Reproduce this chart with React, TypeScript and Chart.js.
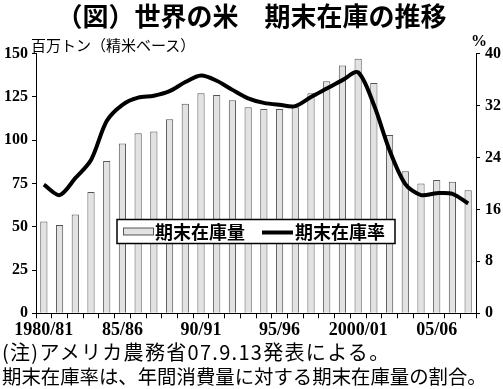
import React, { useEffect, useRef } from "react";
import { Chart, registerables } from "chart.js";

Chart.register(...registerables);

const categories = [
  "1980/81", "81/82", "82/83", "83/84", "84/85", "85/86", "86/87", "87/88", "88/89", "89/90",
  "90/91", "91/92", "92/93", "93/94", "94/95", "95/96", "96/97", "97/98", "98/99", "99/2000",
  "2000/01", "01/02", "02/03", "03/04", "04/05", "05/06", "06/07", "07/08",
];
const shownTicks = ["1980/81", "85/86", "90/91", "95/96", "2000/01", "05/06"];

const stockLabel = "期末在庫量";
const ratioLabel = "期末在庫率";

const stocks = [
  53, 51, 57, 70, 88, 98, 104, 105, 112, 121,
  127, 126, 123, 119, 118, 118, 119, 127, 134, 143,
  147, 133, 103, 82, 75, 77, 76, 71,
];
const stockRatio = [
  19.8, 18.2, 20.8, 23.6, 29.6, 32.1, 33.2, 33.5, 34.2, 35.6,
  36.6, 35.8, 34.4, 33.1, 32.4, 32.1, 31.9, 33.3, 34.6, 35.9,
  37.1, 32.1, 25.1, 19.9, 18.2, 18.5, 18.4, 16.9,
];

const leftMax = 150;
const leftStep = 25;
const rightMax = 40;
const rightStep = 8;

const titleText = "（図）世界の米　期末在庫の推移";
const unitText = "百万トン（精米ベース）";
const rightUnit = "%";
const note1 = "(注)アメリカ農務省07.9.13発表による。";
const note2 = "期末在庫率は、年間消費量に対する期末在庫量の割合。";

const CJK = '"Noto Sans CJK JP", "Noto Sans CJK SC", sans-serif';
const SERIF = '"Liberation Serif", "DejaVu Serif", serif';

export default function App() {
  const canvasRef = useRef<HTMLCanvasElement | null>(null);

  useEffect(() => {
    const canvas = canvasRef.current;
    if (!canvas) return;

    const boxLegend = {
      id: "boxLegend",
      afterDatasetsDraw(chart: any) {
        const ctx = chart.ctx as CanvasRenderingContext2D;
        const ca = chart.chartArea;
        const x = ca.left + 81;
        const y = ca.top + 166;
        const w = 278;
        const h = 24;
        ctx.save();
        ctx.fillStyle = "#ffffff";
        ctx.fillRect(x, y, w, h);
        ctx.strokeStyle = "#000000";
        ctx.lineWidth = 1.5;
        ctx.strokeRect(x, y, w, h);
        const cy = y + h / 2;
        ctx.fillStyle = "#e2e2e2";
        ctx.fillRect(x + 6, cy - 3.5, 30, 7);
        ctx.strokeStyle = "#555555";
        ctx.lineWidth = 1;
        ctx.strokeRect(x + 6.5, cy - 3.5, 30, 7);
        ctx.fillStyle = "#000000";
        ctx.font = `bold 18px ${CJK}`;
        ctx.textBaseline = "middle";
        ctx.textAlign = "left";
        ctx.fillText(stockLabel, x + 38, cy + 1);
        ctx.strokeStyle = "#000000";
        ctx.lineWidth = 4;
        ctx.beginPath();
        ctx.moveTo(x + 145, cy + 1);
        ctx.lineTo(x + 176, cy + 1);
        ctx.stroke();
        ctx.fillText(ratioLabel, x + 178, cy + 1);
        ctx.restore();
      },
    };

    const chart = new Chart(canvas, {
      type: "bar",
      data: {
        labels: categories,
        datasets: [
          {
            type: "line",
            label: ratioLabel,
            data: stockRatio,
            yAxisID: "y1",
            borderColor: "#000000",
            borderWidth: 4,
            pointRadius: 0,
            tension: 0.3,
            order: 0,
          } as any,
          {
            type: "bar",
            label: stockLabel,
            data: stocks,
            yAxisID: "y",
            backgroundColor: "#e2e2e2",
            borderColor: "#555555",
            borderWidth: 1,
            barPercentage: 0.46,
            categoryPercentage: 1,
            order: 1,
          },
        ],
      },
      options: {
        responsive: false,
        animation: false,
        events: [],
        layout: { padding: { top: 53.5, left: 0, right: 0, bottom: 0 } },
        plugins: {
          legend: { display: false },
          title: { display: false },
          tooltip: { enabled: false },
        },
        scales: {
          x: {
            offset: true,
            grid: {
              display: true,
              drawOnChartArea: false,
              drawTicks: true,
              tickLength: 5,
              color: "#000000",
              offset: true,
            },
            border: { display: true, color: "#000000", width: 1 },
            ticks: {
              autoSkip: false,
              maxRotation: 0,
              minRotation: 0,
              padding: 1,
              color: "#000000",
              font: { family: SERIF, size: 18, weight: "bold" },
              callback: (_v: any, i: number) =>
                shownTicks.includes(categories[i]) ? categories[i] : "",
            },
            afterFit: (s: any) => {
              s.height = 75.7;
            },
          },
          y: {
            position: "left",
            min: 0,
            max: leftMax,
            grid: {
              drawOnChartArea: false,
              drawTicks: true,
              tickLength: 4,
              color: "#000000",
            },
            border: { display: true, color: "#000000", width: 1 },
            ticks: {
              stepSize: leftStep,
              padding: 4,
              color: "#000000",
              font: { family: SERIF, size: 16, weight: "bold" },
            },
            afterFit: (s: any) => {
              s.width = 36;
            },
          },
          y1: {
            position: "right",
            min: 0,
            max: rightMax,
            grid: {
              drawOnChartArea: false,
              drawTicks: true,
              tickLength: 4,
              color: "#000000",
            },
            border: { display: true, color: "#000000", width: 1 },
            ticks: {
              stepSize: rightStep,
              padding: 5,
              color: "#000000",
              font: { family: SERIF, size: 16, weight: "bold" },
            },
            afterFit: (s: any) => {
              s.width = 27;
            },
          },
        },
      },
      plugins: [boxLegend],
    });

    return () => {
      chart.destroy();
    };
  }, []);

  return (
    <div
      style={{
        position: "absolute",
        left: 0,
        top: 0,
        width: 503,
        height: 389,
        background: "#ffffff",
        overflow: "hidden",
      }}
    >
      <canvas
        ref={canvasRef}
        width={503}
        height={389}
        style={{ position: "absolute", left: 0, top: 0, width: 503, height: 389 }}
      />
      <div
        style={{
          position: "absolute",
          left: 0,
          top: 2,
          width: 503,
          textAlign: "center",
          fontFamily: CJK,
          fontWeight: "bold",
          fontSize: 26,
          lineHeight: 1,
          whiteSpace: "nowrap",
          color: "#000",
        }}
      >
        {titleText}
      </div>
      <div
        style={{
          position: "absolute",
          left: 31,
          top: 37,
          fontFamily: CJK,
          fontSize: 15,
          lineHeight: 1,
          whiteSpace: "nowrap",
          color: "#000",
        }}
      >
        {unitText}
      </div>
      <div
        style={{
          position: "absolute",
          left: 471,
          top: 33,
          fontFamily: SERIF,
          fontWeight: "bold",
          fontSize: 16,
          lineHeight: 1,
          color: "#000",
        }}
      >
        {rightUnit}
      </div>
      <div
        style={{
          position: "absolute",
          left: 2,
          top: 342,
          fontFamily: CJK,
          fontSize: 20,
          letterSpacing: 1.3,
          lineHeight: 1,
          whiteSpace: "nowrap",
          color: "#000",
        }}
      >
        {note1}
      </div>
      <div
        style={{
          position: "absolute",
          left: 2,
          top: 366,
          fontFamily: CJK,
          fontSize: 19.4,
          lineHeight: 1,
          whiteSpace: "nowrap",
          color: "#000",
        }}
      >
        {note2}
      </div>
    </div>
  );
}
